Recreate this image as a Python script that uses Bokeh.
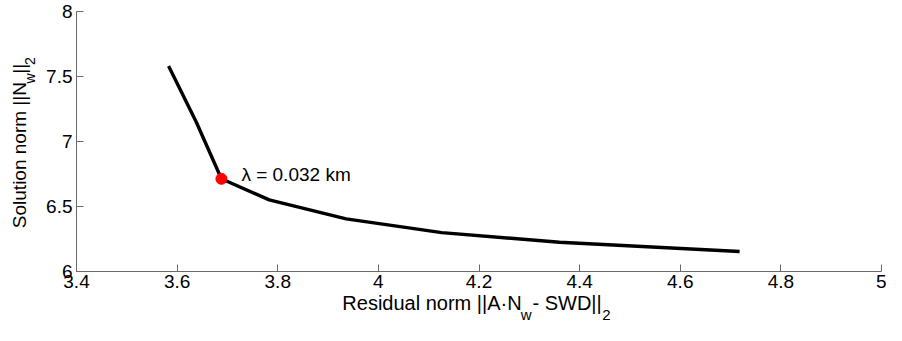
from bokeh.plotting import figure
from bokeh.models import Label, FixedTicker, LinearAxis
from bokeh.embed import file_html
from bokeh.resources import INLINE

# ---- data ----
residual_norm = [3.583, 3.638, 3.688, 3.783, 3.936, 4.126, 4.360, 4.718]
solution_norm = [7.580, 7.150, 6.713, 6.551, 6.405, 6.299, 6.225, 6.154]
knee_index = 2
knee_text = "λ = 0.032 km"

x_ticks = [3.4, 3.6, 3.8, 4.0, 4.2, 4.4, 4.6, 4.8, 5.0]
x_tick_labels = ["3.4", "3.6", "3.8", "4", "4.2", "4.4", "4.6", "4.8", "5"]
y_ticks = [6.0, 6.5, 7.0, 7.5, 8.0]
y_tick_labels = ["6", "6.5", "7", "7.5", "8"]

# axis titles, split into (text, is_subscript) pieces
x_title = [("Residual norm ||A·N", False), ("w", True), (" - SWD||", False), ("2", True)]
y_title = [("Solution norm ||N", False), ("w", True), ("||", False), ("2", True)]

X_MIN, X_MAX = 3.4, 5.0
Y_MIN, Y_MAX = 6.0, 8.0

FONT = "Liberation Sans"
AXIS_COLOR = "#6a6a6a"

WIDTH, HEIGHT = 886, 325
B_LEFT, B_RIGHT, B_TOP, B_BOTTOM = 76, 5, 11, 49

p = figure(width=WIDTH, height=HEIGHT, x_range=(X_MIN, X_MAX), y_range=(Y_MIN, Y_MAX),
           output_backend="svg", toolbar_location=None, title=None,
           min_border_left=B_LEFT, min_border_right=B_RIGHT, min_border_top=B_TOP,
           min_border_bottom=B_BOTTOM)
p.outline_line_color = None
p.grid.visible = False
p.background_fill_color = "white"
p.border_fill_color = "white"

for ax, ticks, labels, standoff in ((p.xaxis, x_ticks, x_tick_labels, 3),
                                    (p.yaxis, y_ticks, y_tick_labels, 4)):
    ax.ticker = FixedTicker(ticks=ticks)
    ax.major_label_overrides = dict(zip(ticks, labels))
    ax.major_tick_in = 7
    ax.major_tick_out = 0
    ax.minor_tick_in = 0
    ax.minor_tick_out = 0
    ax.axis_line_color = AXIS_COLOR
    ax.major_tick_line_color = AXIS_COLOR
    ax.axis_line_width = 1
    ax.major_label_text_font = FONT
    ax.major_label_text_font_size = "19px"
    ax.major_label_text_color = "black"
    ax.major_label_standoff = standoff
    ax.axis_label = None

# L-curve
p.line(residual_norm, solution_norm, line_color="black", line_width=3.4,
       line_join="round")
p.scatter([residual_norm[knee_index]], [solution_norm[knee_index]],
          size=11, fill_color="#ff0000", line_color="#ff0000")
p.add_layout(Label(x=residual_norm[knee_index], y=solution_norm[knee_index],
                   x_offset=20, y_offset=4, text=knee_text,
                   text_font=FONT, text_font_size="19px", text_color="black",
                   text_baseline="alphabetic", text_align="left"))

# ---- axis titles with subscripts, drawn as tick labels of extra axes ----
# Arial/Liberation Sans advance widths (per 1000 em)
W = {"R": 722, "e": 556, "s": 500, "i": 222, "d": 556, "u": 556, "a": 556,
     "l": 222, " ": 278, "n": 556, "o": 556, "r": 333, "m": 833, "|": 260,
     "A": 667, "·": 333, "N": 722, "w": 722, "-": 333, "S": 667, "W": 944,
     "D": 722, "2": 556, "t": 278}

frame_w = WIDTH - B_LEFT - B_RIGHT
frame_h = HEIGHT - B_TOP - B_BOTTOM


def text_width(s, size):
    return sum(W.get(c, 556) for c in s) * size / 1000.0


def piece_centers(pieces, main_size, sub_size, frame_len, lo, hi, nudges):
    widths = [text_width(t, sub_size if s else main_size) for t, s in pieces]
    pos = frame_len / 2 - sum(widths) / 2
    main, sub = [], []
    for (t, s), w, n in zip(pieces, widths, nudges):
        c = round(lo + (pos + w / 2 + n) * (hi - lo) / frame_len, 6)
        (sub if s else main).append((c, t))
        pos += w
    return main, sub


def text_axis(items, size, standoff, side, orientation):
    ticks = [c for c, _ in items]
    ax = LinearAxis(ticker=FixedTicker(ticks=ticks),
                    major_label_overrides={c: t for c, t in items},
                    axis_line_color=None, major_tick_line_color=None,
                    minor_tick_line_color=None,
                    major_tick_in=0, major_tick_out=0, minor_tick_in=0, minor_tick_out=0,
                    major_label_standoff=standoff, major_label_text_font=FONT,
                    major_label_text_font_size=f"{size}px",
                    major_label_text_color="black",
                    major_label_orientation=orientation, axis_label=None)
    p.add_layout(ax, side)


xm, xs = piece_centers(x_title, 20, 15, frame_w, X_MIN, X_MAX, [0, -1, 0, -5])
text_axis(xm, 20, 1, "below", "horizontal")
text_axis(xs, 15, -11, "below", "horizontal")

ym, ys = piece_centers(y_title, 19, 14, frame_h, Y_MIN, Y_MAX, [0, 0, 0, -1])
text_axis(ys, 14, 5, "left", "parallel")
text_axis(ym, 19, -11, "left", "parallel")

open("out.html", "w").write(file_html(p, INLINE))
